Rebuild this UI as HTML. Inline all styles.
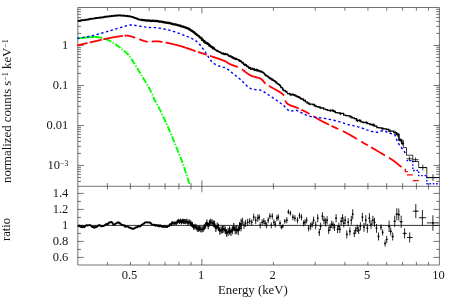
<!DOCTYPE html>
<html><head><meta charset="utf-8"><title>spectrum</title>
<style>
html,body{margin:0;padding:0;background:#fff;}
body{width:454px;height:297px;position:relative;overflow:hidden;font-family:"Liberation Serif",serif;}
.t{position:absolute;font-size:12.5px;line-height:14px;color:#000;white-space:nowrap;}
.sup{font-size:62%;position:relative;top:-0.42em;line-height:0;}
</style></head><body>
<svg width="454" height="297" viewBox="0 0 454 297" style="position:absolute;left:0;top:0">
<path d="M77.8 7.5 H439.4 V265.0 H77.8 Z M77.8 186.3 H439.4 M107.4 7.5 v3.2 M107.4 183.1 v6.4 M107.4 265.0 v-3.2 M130.4 7.5 v3.2 M130.4 183.1 v6.4 M130.4 265.0 v-3.2 M149.2 7.5 v3.2 M149.2 183.1 v6.4 M149.2 265.0 v-3.2 M165.1 7.5 v3.2 M165.1 183.1 v6.4 M165.1 265.0 v-3.2 M178.9 7.5 v3.2 M178.9 183.1 v6.4 M178.9 265.0 v-3.2 M191.0 7.5 v3.2 M191.0 183.1 v6.4 M191.0 265.0 v-3.2 M201.9 7.5 v6.0 M201.9 180.3 v12.0 M201.9 265.0 v-6.0 M273.4 7.5 v3.2 M273.4 183.1 v6.4 M273.4 265.0 v-3.2 M315.2 7.5 v3.2 M315.2 183.1 v6.4 M315.2 265.0 v-3.2 M344.9 7.5 v3.2 M344.9 183.1 v6.4 M344.9 265.0 v-3.2 M367.9 7.5 v3.2 M367.9 183.1 v6.4 M367.9 265.0 v-3.2 M386.7 7.5 v3.2 M386.7 183.1 v6.4 M386.7 265.0 v-3.2 M402.6 7.5 v3.2 M402.6 183.1 v6.4 M402.6 265.0 v-3.2 M416.4 7.5 v3.2 M416.4 183.1 v6.4 M416.4 265.0 v-3.2 M428.5 7.5 v3.2 M428.5 183.1 v6.4 M428.5 265.0 v-3.2 M77.8 181.4 h3.2 M439.4 181.4 h-3.2 M77.8 177.5 h3.2 M439.4 177.5 h-3.2 M77.8 174.3 h3.2 M439.4 174.3 h-3.2 M77.8 171.6 h3.2 M439.4 171.6 h-3.2 M77.8 169.3 h3.2 M439.4 169.3 h-3.2 M77.8 167.3 h3.2 M439.4 167.3 h-3.2 M77.8 165.4 h6.0 M439.4 165.4 h-6.0 M77.8 153.4 h3.2 M439.4 153.4 h-3.2 M77.8 146.4 h3.2 M439.4 146.4 h-3.2 M77.8 141.4 h3.2 M439.4 141.4 h-3.2 M77.8 137.5 h3.2 M439.4 137.5 h-3.2 M77.8 134.3 h3.2 M439.4 134.3 h-3.2 M77.8 131.6 h3.2 M439.4 131.6 h-3.2 M77.8 129.3 h3.2 M439.4 129.3 h-3.2 M77.8 127.3 h3.2 M439.4 127.3 h-3.2 M77.8 125.5 h6.0 M439.4 125.5 h-6.0 M77.8 113.4 h3.2 M439.4 113.4 h-3.2 M77.8 106.4 h3.2 M439.4 106.4 h-3.2 M77.8 101.4 h3.2 M439.4 101.4 h-3.2 M77.8 97.5 h3.2 M439.4 97.5 h-3.2 M77.8 94.3 h3.2 M439.4 94.3 h-3.2 M77.8 91.6 h3.2 M439.4 91.6 h-3.2 M77.8 89.3 h3.2 M439.4 89.3 h-3.2 M77.8 87.3 h3.2 M439.4 87.3 h-3.2 M77.8 85.5 h6.0 M439.4 85.5 h-6.0 M77.8 73.4 h3.2 M439.4 73.4 h-3.2 M77.8 66.4 h3.2 M439.4 66.4 h-3.2 M77.8 61.4 h3.2 M439.4 61.4 h-3.2 M77.8 57.5 h3.2 M439.4 57.5 h-3.2 M77.8 54.3 h3.2 M439.4 54.3 h-3.2 M77.8 51.6 h3.2 M439.4 51.6 h-3.2 M77.8 49.3 h3.2 M439.4 49.3 h-3.2 M77.8 47.3 h3.2 M439.4 47.3 h-3.2 M77.8 45.5 h6.0 M439.4 45.5 h-6.0 M77.8 33.4 h3.2 M439.4 33.4 h-3.2 M77.8 26.4 h3.2 M439.4 26.4 h-3.2 M77.8 21.4 h3.2 M439.4 21.4 h-3.2 M77.8 17.5 h3.2 M439.4 17.5 h-3.2 M77.8 14.3 h3.2 M439.4 14.3 h-3.2 M77.8 11.6 h3.2 M439.4 11.6 h-3.2 M77.8 9.3 h3.2 M439.4 9.3 h-3.2 M77.8 257.4 h6.0 M439.4 257.4 h-6.0 M77.8 249.4 h3.2 M439.4 249.4 h-3.2 M77.8 241.4 h6.0 M439.4 241.4 h-6.0 M77.8 233.4 h3.2 M439.4 233.4 h-3.2 M77.8 225.4 h6.0 M439.4 225.4 h-6.0 M77.8 217.4 h3.2 M439.4 217.4 h-3.2 M77.8 209.4 h6.0 M439.4 209.4 h-6.0 M77.8 201.4 h3.2 M439.4 201.4 h-3.2 M77.8 193.4 h6.0 M439.4 193.4 h-6.0" fill="none" stroke="#383838" stroke-width="0.7"/>
<path d="M77.8 225.4 H439.4" stroke="#000" stroke-width="0.8" fill="none"/>
<g fill="none" stroke-linecap="butt" stroke-linejoin="round">
<path d="M77.3 38.4 L77.5 38.4 L77.8 38.4 L78.0 38.3 L78.3 38.3 L78.6 38.3 L79.0 38.2 L79.3 38.2 L79.7 38.1 L80.1 38.1 L80.5 38.1 L80.9 38.0 L81.3 38.0 L81.8 37.9 L82.2 37.9 L82.7 37.8 L83.1 37.8 L83.6 37.7 L84.1 37.7 L84.6 37.6 L85.0 37.6 L85.5 37.5 L86.0 37.5 L86.5 37.4 L87.0 37.4 L87.4 37.3 L87.9 37.3 L88.3 37.2 L88.8 37.2 L89.2 37.2 L89.7 37.1 L90.1 37.1 L90.5 37.1 L90.9 37.1 L91.2 37.0 L91.6 37.0 L91.9 37.0 L92.5 37.0 L93.0 37.0 L93.5 36.9 L94.0 36.9 L94.4 36.9 L94.9 36.9 L95.3 36.9 L95.7 36.9 L96.1 37.0 L96.5 37.0 L96.9 37.0 L97.2 37.0 L97.6 37.1 L98.0 37.1 L98.3 37.2 L98.7 37.2 L99.1 37.3 L99.5 37.3 L99.9 37.4 L100.3 37.5 L100.7 37.6 L101.1 37.7 L101.5 37.8 L101.9 37.9 L102.3 38.0" stroke="#00ff00" stroke-width="1.9"/>
<path d="M105.5 39.0 L105.9 39.2 L106.3 39.3 L106.7 39.5 L107.1 39.7 L107.5 39.9 L107.9 40.0 L108.3 40.2 L108.7 40.4 L109.1 40.6 L109.5 40.8 L110.0 41.0 L110.4 41.2 L110.8 41.5 L111.2 41.7 L111.6 41.9 L112.1 42.2 L112.5 42.4 L112.9 42.7 L113.3 42.9 L113.7 43.2 L114.2 43.4 L114.6 43.7 L115.0 44.0 L115.4 44.3 L115.8 44.5 L116.3 44.8 L116.7 45.1 L117.1 45.4 L117.5 45.7 L117.9 46.0 L118.3 46.3 L118.8 46.6 L119.2 46.9 L119.6 47.3 L120.1 47.6 L120.5 47.9 L120.9 48.3 L121.4 48.6 L121.8 49.0 L122.2 49.3 L122.6 49.7 L123.1 50.0 L123.5 50.3 L123.8 50.7 L124.2 51.0 L124.6 51.3 L124.9 51.6 L125.3 51.9 L125.6 52.2 L126.1 52.7 L126.6 53.1 L127.0 53.4 L127.3 53.7 L127.6 54.0 L128.0 54.3 L128.3 54.6 L128.7 55.1 L129.1 55.6 L129.6 56.3 L130.2 57.2 L130.5 57.6 L130.8 58.1 L131.2 58.6 L131.5 59.1 L131.9 59.7 L132.2 60.3 L132.6 60.9 L133.0 61.5 L133.4 62.1 L133.8 62.8 L134.3 63.5 L134.7 64.1 L135.1 64.8 L135.6 65.5 L136.0 66.3 L136.4 67.0 L136.9 67.7 L137.3 68.4 L137.8 69.1 L138.2 69.8 L138.6 70.5 L139.1 71.3 L139.5 71.9 L139.9 72.6 L140.3 73.3 L140.7 74.0 L141.1 74.7 L141.6 75.4 L142.0 76.1 L142.4 76.8 L142.9 77.5 L143.3 78.2 L143.7 79.0 L144.2 79.7 L144.6 80.5 L145.1 81.2 L145.5 81.9 L145.9 82.7 L146.4 83.4 L146.8 84.1 L147.2 84.8 L147.6 85.5 L148.0 86.2 L148.4 86.8 L148.8 87.5 L149.1 88.1 L149.5 88.7 L149.8 89.3 L150.1 89.9 L150.4 90.4 L151.0 91.6 L151.6 92.7 L152.0 93.7 L152.4 94.5 L152.7 95.4 L153.0 96.1 L153.3 96.9 L153.6 97.7 L154.0 98.6 L154.4 99.5 L154.7 100.2 L155.1 100.8 L155.4 101.5 L155.8 102.1 L156.2 102.7 L156.5 103.4 L156.9 104.0 L157.3 104.7 L157.7 105.5 L158.2 106.3 L158.6 107.1 L159.1 108.1 L159.6 109.1 L160.2 110.2 L160.5 110.9 L160.9 111.6 L161.2 112.4 L161.6 113.2 L162.0 114.0 L162.4 114.8 L162.8 115.7 L163.2 116.6 L163.6 117.6 L164.1 118.5 L164.5 119.5 L165.0 120.4 L165.4 121.4 L165.8 122.4 L166.3 123.3 L166.7 124.3 L167.1 125.3 L167.6 126.2 L168.0 127.2 L168.4 128.1 L168.8 129.0 L169.2 129.9 L169.6 130.8 L169.9 131.6 L170.3 132.4 L170.8 133.5 L171.3 134.7 L171.7 135.8 L172.2 136.9 L172.6 137.9 L173.1 139.0 L173.5 140.0 L173.9 141.0 L174.3 142.0 L174.7 143.0 L175.1 144.0 L175.5 144.9 L175.9 145.9 L176.2 146.8 L176.6 147.7 L176.9 148.6 L177.3 149.5 L177.8 150.7 L178.2 151.8 L178.6 152.8 L179.0 153.7 L179.4 154.6 L179.8 155.5 L180.1 156.5 L180.5 157.4 L180.9 158.5 L181.4 159.6 L181.8 160.8 L182.3 162.2 L182.7 163.2 L183.1 164.4 L183.5 165.6 L183.9 166.9 L184.4 168.3 L184.9 169.7 L185.3 171.2 L185.8 172.7 L186.3 174.1 L186.8 175.6 L187.2 177.0 L187.7 178.4 L188.1 179.7 L188.5 180.9 L188.9 182.0 L189.2 182.9 L189.5 183.8 L189.7 184.5" stroke="#00ff00" stroke-width="1.9" stroke-dasharray="6.5 1.6 1.3 1.6"/>
<path d="M77.3 45.4 L77.5 45.4 L77.7 45.3 L78.0 45.2 L78.3 45.2 L78.6 45.1 L78.9 45.0 L79.2 45.0 L79.5 44.9 L79.9 44.8 L80.2 44.7 L80.6 44.6 L81.0 44.5 L81.4 44.4 L81.8 44.3 L82.2 44.2 L82.7 44.1 L83.1 44.0 L83.5 43.9 L84.0 43.8 L84.5 43.7 L84.9 43.6 L85.4 43.5 L85.9 43.4 L86.3 43.3 L86.8 43.2 L87.3 43.1 L87.6 43.0 M89.8 42.5 L90.1 42.4 L90.6 42.3 L91.0 42.2 L91.5 42.1 L91.9 42.0 L92.3 41.9 L92.7 41.8 L93.1 41.7 L93.5 41.6 L93.9 41.5 L94.3 41.5 L94.7 41.4 L95.1 41.3 L95.5 41.2 L95.9 41.1 L96.3 41.0 L96.7 40.9 L97.1 40.8 L97.5 40.7 L98.0 40.6 L98.4 40.5 L98.8 40.4 L99.2 40.3 L99.6 40.2 L100.1 40.1 L100.5 40.0 L100.9 39.9 L101.3 39.8 L101.7 39.7 M103.3 39.3 L103.4 39.3 L103.8 39.2 L104.2 39.1 L104.7 39.0 L105.1 38.9 L105.5 38.9 L105.9 38.8 L106.3 38.7 L106.7 38.6 L107.1 38.5 L107.5 38.4 L107.9 38.4 L108.3 38.3 L108.7 38.2 L109.1 38.1 L109.5 38.0 L110.0 38.0 L110.4 37.9 L110.8 37.8 L111.3 37.7 L111.7 37.6 L112.2 37.6 L112.6 37.5 L113.0 37.4 L113.5 37.3 L113.9 37.2 L114.3 37.2 L114.8 37.1 L115.2 37.0 L115.6 36.9 L116.1 36.9 L116.5 36.8 L116.9 36.7 L117.4 36.7 L117.8 36.6 L118.2 36.5 L118.6 36.5 L119.0 36.4 L119.4 36.4 L119.8 36.3 L120.2 36.2 L120.5 36.2 L120.9 36.1 L121.3 36.1 L121.6 36.0 L122.0 36.0 L122.3 36.0 L122.7 35.9 L122.8 35.9 M124.6 35.7 L125.1 35.7 L125.7 35.7 L126.1 35.7 L126.6 35.7 L127.0 35.7 L127.3 35.7 L127.7 35.7 L128.0 35.8 L128.3 35.8 L128.7 35.9 L129.0 35.9 L129.4 36.0 L129.7 36.1 L130.2 36.2 L130.6 36.3 L131.0 36.4 L131.3 36.5 L131.7 36.6 L132.1 36.7 L132.5 36.8 L132.9 37.0 L133.3 37.1 L133.7 37.2 L134.1 37.4 L134.5 37.5 L134.9 37.7 L135.2 37.8 M139.2 39.3 L139.4 39.3 L139.8 39.5 L140.2 39.6 L140.6 39.7 L141.0 39.9 L141.4 40.0 L141.8 40.2 L142.2 40.3 L142.6 40.5 L143.0 40.6 L143.4 40.7 L143.8 40.9 L144.2 41.0 L144.6 41.1 L145.0 41.2 L145.4 41.3 L145.8 41.4 L146.2 41.5 L146.6 41.6 L147.1 41.6 L147.5 41.7 L147.8 41.7 M151.7 41.6 L151.9 41.6 L152.3 41.5 L152.7 41.5 L153.1 41.4 L153.5 41.4 L154.0 41.3 L154.4 41.3 L154.8 41.3 L155.3 41.3 L155.7 41.3 L156.2 41.3 L156.6 41.3 L157.1 41.3 L157.5 41.3 L157.8 41.4 L158.2 41.4 L158.6 41.4 L159.0 41.5 L159.4 41.5 L159.8 41.6 L160.1 41.6 L160.5 41.7 L160.9 41.8 L161.4 41.8 L161.8 41.9 L162.2 41.9 L162.3 42.0 M165.6 42.6 L165.9 42.6 L166.3 42.7 L166.7 42.8 L167.2 42.9 L167.6 43.0 L168.0 43.0 L168.4 43.1 L168.8 43.2 L169.2 43.3 L169.6 43.4 L170.0 43.5 L170.4 43.6 L170.8 43.6 L171.2 43.7 L171.6 43.8 L172.0 43.9 L172.4 44.0 L172.8 44.1 L173.2 44.2 L173.6 44.3 L174.0 44.4 L174.4 44.5 L174.8 44.6 L175.2 44.7 L175.7 44.8 L176.1 44.9 L176.5 45.0 L176.9 45.1 L177.3 45.2 L177.7 45.3 L178.1 45.4 L178.5 45.5 L178.9 45.6 L179.3 45.7 L179.7 45.8 L180.1 46.0 L180.5 46.1 L180.9 46.2 L181.3 46.3 L181.7 46.4 L182.1 46.5 L182.5 46.7 L182.9 46.8 L183.3 46.9 L183.7 47.1 L184.1 47.2 L184.5 47.3 L184.9 47.5 L185.3 47.6 L185.7 47.7 L186.1 47.9 L186.5 48.0 L186.9 48.1 L187.4 48.3 L187.8 48.4 L188.2 48.6 L188.6 48.7 L189.0 48.9 L189.4 49.0 L189.8 49.1 L190.2 49.3 L190.6 49.4 L191.0 49.6 L191.4 49.7 L191.8 49.8 L192.2 50.0 L192.6 50.1 L193.0 50.3 L193.4 50.4 L193.8 50.5 L194.2 50.7 L194.6 50.8 L195.0 50.9 L195.4 51.1 L195.5 51.1 M198.1 52.0 L198.2 52.0 L198.6 52.1 L199.0 52.3 L199.4 52.4 L199.9 52.5 L200.3 52.7 L200.7 52.8 L201.1 52.9 L201.5 53.1 L201.9 53.2 L202.3 53.3 L202.7 53.5 L203.1 53.6 L203.5 53.7 L203.9 53.9 L204.3 54.0 L204.7 54.1 L205.1 54.3 L205.5 54.4 L205.9 54.5 L206.3 54.7 L206.7 54.8 M210.0 55.9 L210.1 55.9 L210.5 56.0 L211.0 56.2 L211.4 56.3 L211.8 56.5 L212.2 56.6 L212.6 56.7 L213.0 56.9 L213.5 57.0 L213.9 57.1 L214.3 57.3 L214.7 57.4 L215.1 57.5 L215.4 57.7 L215.8 57.8 L216.2 57.9 L216.6 58.0 L216.9 58.2 L217.3 58.3 L217.6 58.4 L218.1 58.6 L218.6 58.7 L219.1 58.9 L219.5 59.1 L220.0 59.2 L220.4 59.4 L220.9 59.6 L221.3 59.7 L221.7 59.9 L222.1 60.0 L222.5 60.2 L222.9 60.3 L223.3 60.5 L223.7 60.6 L224.0 60.8 L224.4 60.9 L224.7 61.1 L225.1 61.2 L225.4 61.4 L225.7 61.5 L226.2 61.8 L226.6 62.0 L227.0 62.2 L227.3 62.5 L227.6 62.7 L227.9 62.9 L228.2 63.1 L228.6 63.4 L229.0 63.6 L229.5 63.9 L230.1 64.2 L230.4 64.3 L230.7 64.5 L231.0 64.6 L231.4 64.7 L231.8 64.9 L232.1 65.0 L232.5 65.1 L232.9 65.3 L233.3 65.4 L233.7 65.6 L234.2 65.7 L234.6 65.8 L235.0 66.0 L235.4 66.2 L235.9 66.3 L236.3 66.5 L236.8 66.6 L237.2 66.8 L237.7 67.0 L237.9 67.1 M241.9 69.3 L242.2 69.5 L242.6 69.8 L243.0 70.1 L243.4 70.4 L243.8 70.7 L244.2 71.0 L244.6 71.3 L245.0 71.6 L245.5 72.0 L245.9 72.3 L246.3 72.6 L246.7 72.9 L247.1 73.2 L247.5 73.5 L247.9 73.8 L248.3 74.1 L248.7 74.3 L249.1 74.6 L249.5 74.9 L249.9 75.1 L250.3 75.3 L250.7 75.5 L251.1 75.7 L251.5 75.9 L252.0 76.0 L252.4 76.2 L252.8 76.3 L253.3 76.5 L253.7 76.6 L254.1 76.7 L254.6 76.8 L255.0 76.9 L255.5 77.0 L255.9 77.1 L256.3 77.3 L256.7 77.4 L257.1 77.5 L257.5 77.6 L257.9 77.7 L258.3 77.8 L258.7 77.9 L259.1 78.0 L259.4 78.2 L259.8 78.3 L260.1 78.4 L260.4 78.6 L261.0 78.9 L261.5 79.3 L262.0 79.7 L262.4 80.1 L262.7 80.5 L263.1 80.9 L263.4 81.4 L263.8 81.8 L264.1 82.2 L264.5 82.6 L264.9 83.0 L265.4 83.4 L265.7 83.6 M269.0 85.8 L269.3 86.0 L269.7 86.2 L270.1 86.5 L270.5 86.8 L271.0 87.0 L271.4 87.3 L271.9 87.5 L272.3 87.8 L272.7 88.0 L273.1 88.3 L273.5 88.5 L273.9 88.7 L274.4 89.0 L274.8 89.2 L275.2 89.5 L275.7 89.7 L276.1 90.0 L276.6 90.2 L277.0 90.4 L277.5 90.7 L277.9 90.9 L278.3 91.2 L278.7 91.4 L279.1 91.6 L279.5 91.9 L279.8 92.1 L280.2 92.3 L280.5 92.5 L281.1 92.9 L281.6 93.3 L282.1 93.7 L282.6 94.2 L283.0 94.5 L283.4 94.9 L283.7 95.2 L284.0 95.5" stroke="#ff0000" stroke-width="1.8"/>
<path d="M285.2 100.5 L285.2 100.6 L285.5 101.1 L285.8 101.7 L286.2 102.3 L286.7 103.0 L287.4 103.7 L288.2 104.3 L288.5 104.5 L288.8 104.6 L289.1 104.8 L289.4 104.9 L289.8 105.1 L290.1 105.2 L290.5 105.4 L290.9 105.6 L291.3 105.7 L291.7 105.9 L292.2 106.0 L292.6 106.2 L293.0 106.3 L293.5 106.5 L293.9 106.6 L294.4 106.8 L294.8 106.9 L295.3 107.1 L295.7 107.3 L296.2 107.4 L296.6 107.6 L297.0 107.8 L297.5 107.9 L297.9 108.1 L298.3 108.3 L298.7 108.5 L298.8 108.5 M301.4 109.7 L301.5 109.8 L301.9 109.9 L302.2 110.1 L302.6 110.3 L303.0 110.5 L303.4 110.7 L303.8 110.9 L304.2 111.1 L304.6 111.3 L305.0 111.5 L305.4 111.7 L305.8 111.9 L306.3 112.1 L306.7 112.4 L307.1 112.6 L307.5 112.8 L308.0 113.1 L308.4 113.3 L308.8 113.5 L309.1 113.7 L309.4 113.9 M313.3 116.2 L313.5 116.3 L313.9 116.5 L314.3 116.8 L314.7 117.0 L315.2 117.3 L315.6 117.5 L316.0 117.8 L316.4 118.0 L316.8 118.3 L317.2 118.5 L317.6 118.8 L318.0 119.0 L318.5 119.3 L318.9 119.5 L319.3 119.7 L319.7 120.0 L320.1 120.2 L320.5 120.4 L320.9 120.6 L321.3 120.8 L321.7 121.0 L322.1 121.2 L322.5 121.5 L322.9 121.7 L323.3 121.9 L323.7 122.1 L324.1 122.3 L324.4 122.4 L324.8 122.6 L325.2 122.8 L325.6 123.0 L326.0 123.2 L326.4 123.4 L326.8 123.6 L327.2 123.8 L327.6 124.0 L328.0 124.2 L328.4 124.4 L328.8 124.6 L329.0 124.7 M331.6 125.9 L331.7 126.0 L332.2 126.2 L332.6 126.4 L333.0 126.6 L333.3 126.8 L333.7 126.9 L334.1 127.1 L334.5 127.3 L334.9 127.5 L335.3 127.7 L335.7 127.9 L336.1 128.1 L336.5 128.2 L336.9 128.4 L337.3 128.6 L337.8 128.8 L338.2 129.0 L338.2 129.0 M342.8 131.2 L343.2 131.3 L343.6 131.5 L344.0 131.7 L344.4 131.9 L344.8 132.1 L345.2 132.3 L345.6 132.5 L346.0 132.7 L346.4 132.9 L346.7 133.1 L347.1 133.3 L347.5 133.5 L348.0 133.8 L348.4 134.0 L348.8 134.2 L349.3 134.5 L349.7 134.7 L350.1 134.9 L350.5 135.2 L350.9 135.4 L351.3 135.7 L351.7 135.9 L352.1 136.1 L352.5 136.4 L352.9 136.6 L353.3 136.8 L353.7 137.1 L354.1 137.3 L354.5 137.6 L354.9 137.8 L355.3 138.0 L355.6 138.3 L356.0 138.5 L356.4 138.7 L356.8 139.0 M361.2 141.6 L361.2 141.6 L361.6 141.8 L362.0 142.0 L362.4 142.3 L362.8 142.5 L363.2 142.7 L363.6 143.0 L364.0 143.2 L364.4 143.4 L364.8 143.7 L365.2 143.9 L365.7 144.1 L366.1 144.4 L366.5 144.6 L366.9 144.8 L367.3 145.1 L367.7 145.3 L367.8 145.4 M371.1 147.3 L371.3 147.4 L371.7 147.6 L372.1 147.9 L372.5 148.1 L372.9 148.4 L373.4 148.6 L373.8 148.8 L374.2 149.1 L374.6 149.3 L375.0 149.6 L375.4 149.8 L375.9 150.1 L376.3 150.3 L376.7 150.6 L377.1 150.8 L377.5 151.0 L378.0 151.3 L378.4 151.5 L378.8 151.8 L379.2 152.0 L379.6 152.2 L380.0 152.5 L380.4 152.7 L380.8 153.0 L381.2 153.2 L381.6 153.4 L381.9 153.6 L382.3 153.9 L382.7 154.1 L383.0 154.3 L383.4 154.5 L383.9 154.8 L384.3 155.1 L384.8 155.3 L385.0 155.4 M389.0 157.8 L389.4 158.0 L389.8 158.2 L390.1 158.5 L390.5 158.7 L390.9 159.0 L391.3 159.2 L391.7 159.5 L392.1 159.7 L392.5 160.0 L392.9 160.3 L393.4 160.6 L393.8 161.0 L394.3 161.3 L394.8 161.6 L395.2 162.0 L395.7 162.4 L396.1 162.7 L396.6 163.1 L397.0 163.4 L397.5 163.8 L397.9 164.1 L398.3 164.5 L398.7 164.8 L399.1 165.1 L399.5 165.5 L399.9 165.8 L400.2 166.1 L400.6 166.3 L400.9 166.6 L401.5 167.1 L401.5 167.1" stroke="#ff0000" stroke-width="1.8"/>
<path d="M405.3 168.8 V171.6 H407.8 M406.9 174.9 H412.8 M412.8 180.6 H418.7" stroke="#ff0000" stroke-width="1.4"/>
<path d="M77.3 38.4 L77.9 38.3 L78.6 38.2 L79.4 38.1 L80.3 37.9 L81.3 37.7 L82.4 37.6 L83.5 37.4 L84.7 37.2 L85.9 37.0 L87.1 36.8 L88.4 36.5 L89.6 36.3 L90.8 36.1 L91.9 35.8 L92.9 35.6 L93.9 35.3 L94.9 35.1 L95.9 34.8 L97.0 34.5 L98.0 34.2 L99.1 33.9 L100.2 33.6 L101.2 33.3 L102.3 33.0 L103.4 32.7 L104.4 32.4 L105.5 32.0 L106.6 31.7 L107.6 31.4 L108.7 31.1 L109.8 30.8 L110.9 30.5 L112.0 30.1 L113.2 29.8 L114.3 29.4 L115.5 29.0 L116.7 28.7 L117.8 28.3 L119.0 28.0 L120.1 27.6 L121.1 27.3 L122.1 27.0 L123.1 26.7 L124.0 26.4 L124.8 26.2 L125.6 26.0 L127.4 25.5 L128.5 25.2 L129.3 25.0 L130.2 25.0 L131.5 25.0 L132.4 25.1 L133.4 25.2 L134.5 25.3 L135.6 25.5 L136.8 25.7 L138.0 25.9 L139.2 26.1 L140.3 26.3 L141.4 26.5 L142.4 26.6 L143.6 26.8 L144.7 26.9 L145.8 27.1 L146.9 27.2 L147.9 27.3 L148.9 27.4 L149.9 27.5 L150.8 27.6 L151.9 27.7 L152.8 27.6 L153.7 27.6 L154.6 27.6 L155.7 27.6 L157.1 27.8 L157.9 27.9 L158.8 28.1 L159.7 28.2 L160.7 28.4 L161.7 28.6 L162.8 28.8 L163.9 29.0 L165.0 29.2 L166.0 29.4 L167.1 29.7 L168.2 29.9 L169.2 30.2 L170.2 30.5 L171.2 30.8 L172.2 31.1 L173.2 31.4 L174.2 31.7 L175.2 32.0 L176.3 32.4 L177.3 32.7 L178.3 33.1 L179.3 33.5 L180.3 33.8 L181.3 34.2 L182.3 34.6 L183.4 35.0 L184.5 35.4 L185.6 35.8 L186.6 36.3 L187.7 36.7 L188.8 37.1 L189.8 37.6 L190.8 38.0 L191.7 38.4 L192.6 38.9 L193.4 39.3 L194.8 40.1 L195.9 40.9 L196.8 41.6 L197.7 42.4 L198.6 43.3 L199.5 44.3 L200.5 45.5 L201.5 46.7 L202.5 48.1 L203.5 49.5 L204.5 51.0 L205.5 52.4 L206.5 53.9 L207.5 55.5 L208.6 57.2 L209.6 58.8 L210.6 60.3 L211.6 61.5 L212.6 62.5 L213.5 63.3 L214.5 63.9 L215.4 64.5 L216.5 65.0 L217.6 65.5 L218.5 65.9 L219.6 66.2 L220.6 66.5 L221.8 66.8 L222.8 67.1 L223.9 67.4 L224.9 67.7 L225.7 68.0 L226.9 68.7 L227.8 69.3 L228.7 70.1 L230.1 71.3 L230.9 71.9 L231.8 72.6 L232.7 73.3 L233.7 74.1 L234.8 74.9 L235.9 75.8 L237.0 76.7 L238.1 77.6 L239.2 78.4 L240.2 79.3 L241.2 80.2 L242.2 81.2 L243.2 82.2 L244.2 83.2 L245.2 84.2 L246.3 85.2 L247.3 86.2 L248.3 87.0 L249.3 87.8 L250.3 88.4 L251.3 88.9 L252.4 89.2 L253.5 89.4 L254.5 89.5 L255.6 89.6 L256.7 89.7 L257.7 89.7 L258.6 89.8 L259.6 89.9 L260.4 90.1 L261.6 90.6 L262.7 91.1 L263.7 91.7 L264.6 92.3 L265.5 92.9 L266.4 93.5 L267.5 94.2 L268.5 94.8 L269.5 95.5 L270.7 96.2 L272.1 97.2 L273.0 97.8 L273.9 98.4 L275.0 99.1 L276.1 99.9 L277.2 100.7 L278.3 101.4 L279.4 102.2 L280.4 103.0 L281.4 103.7 L282.2 104.3 L283.6 105.5 L284.7 106.6 L285.6 107.6 L286.4 108.5 L287.2 109.3 L288.3 110.3 L289.1 111.0 L290.3 111.3 L291.1 111.2 L292.0 111.0 L293.0 110.7 L294.0 110.4 L295.1 110.2 L296.3 110.3 L297.2 110.6 L298.2 111.0 L299.2 111.5 L300.2 112.1 L301.3 112.7 L302.3 113.3 L303.4 113.8 L304.4 114.3 L305.4 114.7 L306.3 115.1 L307.3 115.5 L308.2 115.8 L309.2 116.1 L310.2 116.4 L311.3 116.7 L312.5 117.0 L313.4 117.2 L314.3 117.3 L315.2 117.4 L316.2 117.5 L317.3 117.6 L318.3 117.7 L319.4 117.8 L320.4 117.9 L321.5 118.0 L322.5 118.1 L323.6 118.2 L324.6 118.4 L325.6 118.6 L326.6 118.8 L327.7 119.0 L328.7 119.2 L329.7 119.4 L330.8 119.6 L331.8 119.8 L332.8 120.0 L333.8 120.3 L334.8 120.5 L335.8 120.8 L336.7 121.0 L337.8 121.3 L338.9 121.6 L339.9 121.9 L340.9 122.2 L341.9 122.6 L342.9 122.9 L343.9 123.2 L344.9 123.6 L346.0 123.9 L347.1 124.2 L348.0 124.5 L349.0 124.7 L350.0 124.9 L351.0 125.2 L352.0 125.4 L353.0 125.6 L354.1 125.9 L355.1 126.1 L356.1 126.4 L357.2 126.6 L358.2 126.9 L359.2 127.2 L360.2 127.5 L361.3 127.9 L362.4 128.2 L363.5 128.6 L364.5 129.0 L365.6 129.4 L366.7 129.8 L367.7 130.1 L368.7 130.5 L369.6 130.8 L370.5 131.1 L371.3 131.3 L372.7 131.7 L373.8 132.0 L374.7 132.2 L375.6 132.3 L376.5 132.3 L377.4 132.3 L378.4 132.1 L379.4 131.8 L380.4 131.4 L381.4 131.0 L382.4 130.8 L383.4 130.7 L384.4 130.9 L385.5 131.3 L386.5 131.8 L387.5 132.4 L388.5 132.9 L389.5 133.3 L390.6 133.5 L391.7 133.6 L392.8 133.7 L393.7 133.9 L394.5 134.3 L395.6 136.5 L396.5 139.3 L397.4 141.3 L398.5 143.4 L399.6 145.4 L400.6 146.7 L401.6 148.0 L402.7 149.2 L403.6 150.4 L405.3 153.3 L406.4 155.5" stroke="#0000ff" stroke-width="1.4" stroke-dasharray="2.4 2.5"/>
<path d="M406.5 160.6 L412.8 160.6 L412.8 170.5 L418.7 170.5 L418.7 175.6 L426.8 175.6 L426.8 183.8 L439.4 183.8" stroke="#0000ff" stroke-width="1.4" stroke-dasharray="1.6 1.7"/>
</g>
<g fill="none" stroke="#000" stroke-linejoin="round">
<path d="M77.9 21.0 L78.2 20.9 L78.6 21.0 L79.0 20.7 L79.5 20.9 L80.0 20.7 L80.5 20.5 L81.0 20.6 L81.5 20.3 L82.1 20.4 L82.6 20.1 L83.2 20.1 L83.8 20.1 L84.4 20.2 L85.0 19.8 L85.6 19.7 L86.2 19.8 L86.8 19.8 L87.4 19.6 L87.9 19.4 L88.5 19.5 L89.1 19.1 L89.6 19.3 L90.1 19.0 L90.6 18.9 L91.1 18.8 L91.5 18.8 L91.9 18.9 L92.6 18.6 L93.2 18.6 L93.8 18.6 L94.4 18.4 L94.9 18.4 L95.4 18.1 L95.9 18.0 L96.3 18.0 L96.8 18.1 L97.2 18.0 L97.6 17.9 L98.1 17.9 L98.5 17.8 L99.0 17.7 L99.5 17.8 L100.0 17.7 L100.5 17.4 L101.0 17.5 L101.6 17.4 L102.1 17.5 L102.6 17.3 L103.2 17.1 L103.8 17.3 L104.3 16.8 L104.9 16.9 L105.4 16.9 L105.9 16.6 L106.4 16.7 L106.9 16.4 L107.4 16.6 L107.9 16.6 L108.3 16.5 L108.7 16.6 L109.4 16.2 L110.1 16.3 L110.6 16.2 L111.1 16.1 L111.5 16.0 L112.0 16.1 L112.5 16.1 L113.0 15.9 L113.5 15.9 L113.9 15.6 L114.4 15.8 L114.8 15.8 L115.3 15.8 L115.8 15.7 L116.3 15.5 L116.8 15.5 L117.4 15.6 L118.0 15.3 L118.5 15.5 L118.9 15.4 L119.5 15.4 L120.0 15.3 L120.5 15.6 L121.1 15.4 L121.6 15.5 L122.2 15.6 L122.8 15.8 L123.3 15.5 L123.8 15.7 L124.3 15.7 L124.8 15.9 L125.3 15.9 L125.9 16.0 L126.5 15.8 L127.0 15.9 L127.5 16.0 L128.0 16.3 L128.5 16.4 L129.0 16.2 L129.5 16.3 L130.0 16.4 L130.5 16.5 L131.0 16.7 L131.5 16.9 L132.0 16.9 L132.6 16.9 L133.1 17.3 L133.6 17.4 L134.1 17.6 L134.6 18.0 L135.1 18.0 L135.6 18.1 L136.1 18.3 L136.7 18.6 L137.2 18.5 L137.8 19.1 L138.3 19.2 L138.8 19.4 L139.4 19.6 L139.9 19.6 L140.5 19.8 L141.0 19.7 L141.5 20.0 L142.0 19.9" stroke-width="1.9"/>
<path d="M141.5 19.8 L142.0 20.0 L142.5 20.0 L143.0 20.1 L143.5 20.1 L144.1 20.1 L144.6 20.2 L145.1 20.3 L145.6 20.4 L146.1 20.3 L146.6 20.7 L147.2 20.6 L147.7 20.5 L148.2 20.5 L148.8 20.6 L149.3 20.6 L149.8 20.6 L150.3 20.9 L150.9 21.0 L151.4 20.8 L151.9 20.8 L152.5 20.7 L153.0 20.7 L153.5 20.8 L154.1 20.8 L154.6 21.1 L155.1 20.8 L155.6 20.8 L156.2 21.2 L156.7 21.1 L157.2 21.0 L157.7 21.2 L158.2 21.1 L158.7 21.4 L159.2 21.6 L159.7 21.7 L160.3 21.7 L160.8 21.6 L161.4 21.7 L162.0 21.8 L162.4 22.1 L162.9 22.0 L163.3 22.2 L163.8 22.1 L164.2 22.1 L164.7 22.4 L165.2 22.6 L165.7 22.6 L166.2 22.6 L166.7 22.7 L167.3 22.8 L167.9 22.7 L168.5 23.0 L169.2 23.0 L169.6 23.0 L170.0 23.1 L170.5 23.3 L171.0 23.4 L171.5 23.7 L172.0 23.9 L172.5 23.8 L173.0 24.1 L173.6 24.3 L174.1 24.4 L174.6 24.3 L175.2 24.4 L175.7 24.5 L176.3 24.6 L176.8 24.8 L177.4 25.1 L177.9 25.3 L178.4 25.4 L179.0 25.4 L179.5 25.6 L179.9 25.8 L180.4 25.7 L180.9 26.0 L181.3 26.3 L181.9 26.4 L182.5 26.6 L183.1 26.6 L183.6 26.7 L184.1 27.1 L184.6 27.1 L185.1 27.4 L185.6 27.7 L186.1 27.6 L186.5 27.8 L187.0 28.2 L187.5 28.3 L187.9 28.3 L188.4 28.5 L188.9 28.8 L189.4 29.4 L189.9 29.6 L190.4 29.7 L190.9 30.3 L191.4 30.7 L191.9 30.9 L192.4 31.1 L192.9 31.6 L193.5 31.8 L194.0 32.1 L194.5 32.9 L195.0 33.2 L195.5 33.6 L196.0 34.1 L196.5 34.4 L197.0 34.9 L197.5 35.3 L198.0 35.5 L198.5 35.9 L199.0 36.4 L199.5 36.8 L200.0 37.5 L200.5 37.5 L201.0 38.2 L201.5 38.2 L202.0 39.8 L202.5 39.5 L203.0 40.1 L203.5 40.7 L204.0 41.6 L204.5 41.3 L205.0 42.5 L205.5 42.3 L206.0 42.8 L206.5 43.2 L207.0 42.9 L207.6 43.8 L208.1 43.9 L208.6 44.0 L209.1 45.5 L209.6 45.0 L210.2 45.8 L210.7 46.6 L211.2 46.7 L211.7 46.7 L212.2 47.4 L212.7 47.7 L213.1 48.4 L213.6 47.7 L214.2 48.8 L214.7 48.7" stroke-width="2.3"/>
<path d="M214.2 48.4 L214.7 49.4 L215.2 49.4 L215.7 49.8 L216.2 50.4 L216.7 50.9 L217.2 50.5 L217.7 51.1 L218.2 51.2 L218.7 51.5 L219.3 52.1 L220.0 52.0 L220.4 52.3 L220.9 52.5 L221.3 53.3 L221.8 53.1 L222.3 53.6 L222.8 53.9 L223.3 53.1 L223.8 53.7 L224.3 54.4 L224.8 54.5 L225.3 53.7 L225.9 53.9 L226.4 54.5 L227.0 54.2 L227.5 54.7 L228.0 54.6 L228.5 55.7 L229.1 56.1 L229.6 56.4 L230.1 55.6 L230.6 56.6 L231.1 56.8 L231.6 56.3 L232.1 57.6 L232.6 57.9 L233.1 57.1 L233.6 58.4 L234.1 57.8 L234.6 58.2 L235.1 59.1 L235.7 59.2 L236.2 58.5 L236.7 59.1 L237.2 59.5 L237.7 59.5 L238.2 59.6 L238.7 60.1 L239.2 60.9 L239.7 60.2 L240.2 61.3 L240.7 61.4 L241.2 61.2 L241.7 61.9 L242.2 62.7 L242.7 62.9 L243.2 62.7 L243.7 64.3 L244.2 64.5 L244.7 65.1 L245.2 64.3 L245.8 64.9 L246.3 64.9 L246.8 66.4 L247.3 66.0 L247.8 66.2 L248.3 66.9 L248.8 67.9 L249.3 68.1 L249.8 67.6 L250.3 67.7 L250.8 69.0 L251.3 68.8 L251.8 69.1 L252.4 68.4 L252.9 68.6 L253.4 69.6 L253.9 69.4 L254.4 69.0 L255.0 70.3 L255.5 70.0 L256.0 70.3 L256.5 69.5 L257.0 70.7 L257.5 69.7 L258.0 70.9 L258.5 70.5 L259.0 70.5 L259.5 71.0 L259.9 71.7 L260.4 71.0 L261.0 71.1 L261.5 72.0 L262.0 71.9 L262.6 72.1 L263.1 72.5 L263.6 72.8 L264.1 73.4 L264.5 73.9 L265.0 74.3 L265.5 75.4 L266.0 75.1 L266.5 75.8 L266.9 75.8 L267.4 76.4 L267.9 76.3 L268.4 77.0 L268.9 77.0 L269.4 78.3 L269.9 78.3 L270.4 78.1 L270.9 78.7 L271.4 79.6 L271.9 78.7 L272.4 80.0 L272.9 79.7 L273.4 80.1 L273.9 80.9 L274.4 80.6 L275.0 81.1 L275.5 81.8 L276.1 82.7 L276.6 82.2 L277.0 83.3 L277.5 83.6 L278.0 83.9 L278.5 84.1 L279.0 84.6 L279.5 84.7 L280.0 85.4 L280.5 85.9 L281.0 87.4 L281.5 87.3 L282.0 87.7 L282.6 88.2 L283.1 89.8 L283.6 90.3 L284.1 90.5 L284.7 90.5 L285.2 90.8 L285.7 91.3 L286.2 91.9 L286.7 91.7 L287.2 92.5 L287.7 92.5" stroke-width="1.7"/>
<path d="M287.0 93.6 L288.6 93.6 L288.6 93.7 L290.2 93.7 L290.2 94.8 L291.8 94.8 L291.8 94.4 L293.5 94.4 L293.5 95.0 L295.1 95.0 L295.1 95.8 L296.8 95.8 L296.8 96.7 L298.5 96.7 L298.5 97.4 L300.2 97.4 L300.2 98.6 L301.9 98.6 L301.9 99.2 L303.6 99.2 L303.6 100.5 L305.4 100.5 L305.4 101.9 L307.1 101.9 L307.1 103.0 L308.9 103.0 L308.9 104.2 L310.7 104.2 L310.7 104.1 L312.5 104.1 L312.5 104.5 L314.3 104.5 L314.3 105.8 L316.2 105.8 L316.2 106.7 L318.0 106.7 L318.0 107.0 L319.9 107.0 L319.9 107.8 L321.8 107.8 L321.8 108.0 L323.7 108.0 L323.7 109.1 L325.6 109.1 L325.6 109.6 L327.5 109.6 L327.5 110.3 L329.5 110.3 L329.5 110.6 L331.4 110.6 L331.4 110.3 L333.4 110.3 L333.4 111.4 L335.4 111.4 L335.4 112.6 L337.4 112.6 L337.4 112.9 L339.5 112.9 L339.5 113.6 L341.5 113.6 L341.5 113.4 L343.6 113.4 L343.6 115.1 L345.7 115.1 L345.7 115.6 L347.8 115.6 L347.8 115.8 L349.9 115.8 L349.9 116.9 L352.0 116.9 L352.0 117.8 L354.2 117.8 L354.2 118.6 L356.4 118.6 L356.4 120.5 L358.6 120.5 L358.6 120.5 L360.8 120.5 L360.8 121.8 L363.0 121.8 L363.0 122.5 L365.3 122.5 L365.3 122.6 L367.6 122.6 L367.6 123.6 L369.9 123.6 L369.9 124.5 L372.2 124.5 L372.2 125.0 L374.5 125.0 L374.5 126.2 L376.9 126.2 L376.9 127.6 L379.2 127.6 L379.2 127.8 L381.6 127.8 L381.6 128.7 L384.0 128.7 L384.0 128.9 L386.5 128.9 L386.5 129.5 L388.9 129.5 L388.9 131.1 L391.4 131.1 L391.4 131.1 L393.9 131.1 L393.9 132.7 L396.4 132.7 L396.4 134.7 L399.0 134.7 L399.0 140.0 L401.6 140.0 L401.6 143.5 L404.1 143.5" stroke-width="1.3" stroke-linejoin="miter"/>
<path d="M396.5 133.3 L398.8 133.3 L398.8 140.3 L403.3 140.3 L403.3 147.6 L406.5 147.6 L406.5 155.2 L412.8 155.2 L412.8 161.5 L418.7 161.5 L418.7 167.6 L426.8 167.6 L426.8 177.6 L439.4 177.6" stroke-width="0.8"/>
<path d="M289.4 92.7 v2.0 M291.0 93.8 v2.0 M292.7 93.4 v2.1 M294.3 93.9 v2.1 M296.0 94.8 v2.1 M297.7 95.6 v2.2 M299.3 96.3 v2.2 M301.0 97.5 v2.2 M302.8 98.0 v2.2 M309.8 103.0 v2.3 M315.2 104.6 v2.4 M320.8 106.6 v2.5 M330.4 109.3 v2.7 M332.4 108.9 v2.7 M334.4 110.0 v2.7 M340.5 112.2 v2.8 M351.0 115.4 v3.0 M357.5 119.0 v3.1 M359.7 119.0 v3.1 M366.4 121.0 v3.2 M373.3 123.3 v3.3 M382.8 127.0 v3.5 M390.2 129.3 v3.6 M395.2 130.8 v3.7 M397.7 132.9 v3.7 M400.3 138.2 v3.7 M402.8 141.6 v3.8 M409.4 156.5 v4.6 M406.4 158.8 h6.0 M415.6 157.4 v4.6 M412.6 159.7 h6.0 M422.8 164.7 v5.6 M418.8 167.5 h8.0 M433.0 174.3 v6.6 M426.7 177.6 h12.6" stroke-width="0.8"/>
</g>
<g fill="none" stroke="#000" stroke-linejoin="round">
<path d="M77.9 225.3 L78.7 226.1 L79.5 225.5 L80.3 226.7 L81.1 226.6 L81.9 227.2 L82.7 227.1 L83.5 226.5 L84.3 227.2 L85.1 226.4 L85.9 225.6 L86.7 225.2 L87.5 225.5 L88.3 225.3 L89.1 225.1 L89.9 225.0 L90.7 225.6 L91.5 226.0 L92.3 227.1 L93.1 226.5 L93.9 227.6 L94.7 227.7 L95.5 226.5 L96.3 227.1 L97.1 226.4 L97.9 226.2 L98.7 225.2 L99.5 225.1 L100.3 225.3 L101.1 226.4 L101.9 226.2 L102.7 226.1 L103.5 226.1 L104.3 225.6 L105.1 224.8 L105.9 224.3 L106.7 224.7 L107.5 223.5 L108.3 223.9 L109.1 222.6 L109.9 222.2 L110.7 222.3 L111.5 221.9 L112.3 222.6 L113.1 224.1 L113.9 224.6 L114.7 224.6 L115.5 223.7 L116.3 223.2 L117.1 222.8 L117.9 222.3 L118.7 222.9 L119.5 222.6 L120.3 223.9 L121.1 224.1 L121.9 224.9 L122.7 225.2 L123.5 225.2 L124.3 225.3 L125.1 226.7 L125.9 226.0 L126.7 226.6 L127.5 226.6 L128.3 226.8 L129.1 227.5 L129.9 228.0 L130.7 227.6 L131.5 228.5 L132.3 228.4 L133.1 229.0 L133.9 228.7 L134.7 228.1 L135.5 227.6 L136.3 227.1 L137.1 227.4 L137.9 226.6 L138.7 226.0 L139.5 226.5 L140.3 226.4 L141.1 225.5 L141.9 224.7 L142.7 224.3 L143.5 223.6 L144.3 223.3 L145.1 222.5 L145.9 222.4 L146.7 222.1 L147.5 222.3 L148.3 222.5 L149.1 222.5 L149.9 222.4 L150.7 223.1 L151.5 224.0 L152.3 224.5 L153.1 224.9 L153.9 224.7 L154.7 225.0 L155.5 225.8 L156.3 224.9 L157.1 225.5 L157.9 225.8 L158.7 226.2 L159.5 225.5 L160.3 225.7 L161.1 225.9 L161.9 226.3" stroke-width="1.9"/>
<path d="M158.0 224.1 v2.0 M158.9 225.0 v2.0 M159.8 225.2 v2.0 M160.7 224.7 v2.0 M161.6 225.4 v2.0 M162.6 225.6 v2.0 M163.5 225.7 v2.0 M164.4 225.4 v2.0 M165.4 225.6 v2.0 M166.3 225.9 v2.0 M167.3 225.7 v2.0 M168.3 224.9 v2.1 M169.2 224.6 v2.2 M170.2 223.0 v2.4 M171.2 223.5 v2.6 M172.2 221.1 v2.8 M173.2 221.7 v3.0 M174.2 221.6 v3.2 M175.2 221.4 v3.4 M176.3 221.3 v3.7 M177.3 219.8 v3.9 M178.3 218.8 v4.1 M179.4 219.7 v4.3 M180.4 218.7 v4.5 M181.5 219.6 v4.7 M182.6 218.6 v4.8 M183.6 219.0 v4.9 M184.7 219.0 v5.0 M185.8 219.1 v5.1 M186.9 218.6 v5.1 M188.0 220.4 v5.2 M189.1 219.2 v5.3 M190.3 220.2 v5.4 M191.4 221.5 v5.4 M192.5 222.1 v5.5 M193.7 224.3 v5.6 M194.9 223.7 v5.7 M196.0 224.0 v5.7 M197.2 225.9 v5.8 M198.4 225.9 v5.9 M199.6 225.3 v6.0 M200.8 226.2 v6.1 M202.0 226.4 v6.1 M203.2 225.7 v6.2 M204.4 223.8 v6.3 M205.7 222.4 v6.4 M206.9 219.4 v6.5 M208.2 222.7 v6.5 M209.4 219.9 v6.6 M210.7 218.7 v6.7 M212.0 219.2 v6.8 M213.3 220.3 v6.9 M214.6 220.7 v7.0 M215.9 224.9 v7.1 M217.2 222.5 v7.1 M218.5 223.7 v7.2 M219.9 227.4 v7.3 M221.2 226.4 v7.4 M222.6 225.6 v7.5 M223.9 225.1 v7.6 M225.3 226.5 v7.7 M226.7 229.0 v7.8 M228.1 227.9 v7.9 M229.5 226.4 v8.0 M230.9 227.9 v8.1 M232.3 226.1 v8.2 M233.8 223.0 v8.3 M235.2 226.0 v8.3 M236.7 225.4 v8.4 M238.2 226.6 v8.5 M239.6 222.1 v8.6 M241.1 218.9 v8.7" stroke-width="1.0"/>
<path d="M158.0 225.1 L158.9 226.0 L159.8 226.2 L160.7 225.7 L161.6 226.4 L162.6 226.6 L163.5 226.7 L164.4 226.4 L165.4 226.6 L166.3 226.9 L167.3 226.7 L168.3 225.9 L169.2 225.7 L170.2 224.2 L171.2 224.8 L172.2 222.5 L173.2 223.2 L174.2 223.2 L175.2 223.1 L176.3 223.1 L177.3 221.8 L178.3 220.8 L179.4 221.9 L180.4 221.0 L181.5 221.9 L182.6 221.0 L183.6 221.5 L184.7 221.5 L185.8 221.7 L186.9 221.2 L188.0 223.0 L189.1 221.9 L190.3 222.8 L191.4 224.2 L192.5 224.8 L193.7 227.1 L194.9 226.5 L196.0 226.8 L197.2 228.9 L198.4 228.9 L199.6 228.3 L200.8 229.2 L202.0 229.5 L203.2 228.8 L204.4 226.9 L205.7 225.6 L206.9 222.7 L208.2 226.0 L209.4 223.2 L210.7 222.0 L212.0 222.6 L213.3 223.7 L214.6 224.2 L215.9 228.4 L217.2 226.1 L218.5 227.3 L219.9 231.1 L221.2 230.1 L222.6 229.4 L223.9 228.9 L225.3 230.3 L226.7 232.9 L228.1 231.9 L229.5 230.4 L230.9 231.9 L232.3 230.2 L233.8 227.1 L235.2 230.2 L236.7 229.6 L238.2 230.9 L239.6 226.4 L241.1 223.2" stroke-width="1.9"/>
<path d="M241.0 225.3 v6.1 M240.3 228.3 h1.4 M242.4 217.6 v7.3 M241.7 221.3 h1.4 M244.0 221.7 v7.3 M243.3 225.3 h1.4 M245.6 219.7 v7.3 M244.9 223.3 h1.4 M247.7 218.7 v7.3 M247.0 222.3 h1.4 M249.7 218.2 v6.1 M249.0 221.3 h1.4 M251.7 219.3 v6.1 M251.0 222.3 h1.4 M253.7 213.6 v7.3 M253.0 217.2 h1.4 M255.7 216.6 v7.3 M255.0 220.3 h1.4 M257.8 214.6 v7.3 M257.1 218.2 h1.4 M259.2 214.2 v6.1 M258.5 217.2 h1.4 M260.2 222.3 v6.1 M259.5 225.3 h1.4 M262.2 219.3 v6.1 M261.5 222.3 h1.4 M263.8 218.2 v6.1 M263.1 221.3 h1.4 M265.2 220.3 v6.1 M264.5 223.3 h1.4 M266.6 222.3 v6.1 M265.9 225.3 h1.4 M268.2 217.2 v6.1 M267.5 220.3 h1.4 M269.9 213.2 v6.1 M269.2 216.2 h1.4 M271.3 222.3 v6.1 M270.6 225.3 h1.4 M272.3 213.2 v6.1 M271.6 216.2 h1.4 M273.9 219.3 v6.1 M273.2 222.3 h1.4 M275.3 221.3 v6.1 M274.6 224.3 h1.4 M276.9 215.2 v6.1 M276.2 218.2 h1.4 M278.3 214.2 v6.1 M277.6 217.2 h1.4 M280.0 220.3 v6.1 M279.3 223.3 h1.4 M281.4 225.3 v4.0 M280.7 227.3 h1.4 M282.8 224.3 v4.0 M282.1 226.3 h1.4 M284.8 218.9 v4.8 M284.1 221.3 h1.4 M286.8 217.2 v6.1 M286.1 220.3 h1.4 M288.4 209.4 v4.8 M287.7 211.8 h1.4 M290.4 210.8 v4.8 M289.7 213.2 h1.4 M292.9 214.2 v6.1 M292.2 217.2 h1.4 M294.9 215.2 v6.1 M294.2 218.2 h1.4 M297.5 217.2 v6.1 M296.8 220.3 h1.4 M299.5 212.8 v6.1 M298.8 215.8 h1.4 M301.5 214.2 v6.1 M300.8 217.2 h1.4 M303.6 220.3 v6.1 M302.9 223.3 h1.4 M305.0 219.3 v6.1 M304.3 222.3 h1.4 M306.6 217.2 v6.1 M305.9 220.3 h1.4 M308.6 225.3 v6.1 M307.9 228.3 h1.4 M310.6 222.7 v7.3 M309.9 226.3 h1.4 M312.2 221.3 v6.1 M311.5 224.3 h1.4 M313.6 216.6 v7.3 M312.9 220.3 h1.4 M315.7 221.3 v8.1 M315.0 225.3 h1.4 M317.7 214.2 v8.1 M317.0 218.2 h1.4 M319.3 228.7 v7.3 M318.6 232.4 h1.4 M320.6 222.7 v7.3 M319.8 226.3 h1.6 M322.4 212.2 v8.1 M321.6 216.2 h1.6 M324.0 216.2 v8.1 M323.2 220.3 h1.6 M325.6 218.2 v8.1 M324.8 222.3 h1.6 M327.1 216.2 v8.1 M326.3 220.3 h1.6 M328.7 226.7 v7.3 M327.9 230.4 h1.6 M330.1 223.7 v7.3 M329.3 227.3 h1.6 M331.7 220.7 v7.3 M330.9 224.3 h1.6 M333.1 221.7 v7.3 M332.3 225.3 h1.6 M334.5 223.7 v7.3 M333.7 227.3 h1.6 M336.1 214.2 v8.1 M335.3 218.2 h1.6 M337.6 225.7 v7.3 M336.8 229.3 h1.6 M338.8 222.7 v7.3 M338.0 226.3 h1.6 M339.8 225.7 v7.3 M339.0 229.3 h1.6 M341.2 217.2 v8.1 M340.4 221.3 h1.6 M342.6 214.2 v8.1 M341.8 218.2 h1.6 M343.8 219.3 v8.1 M343.0 223.3 h1.6 M345.2 216.2 v8.1 M344.4 220.3 h1.6 M346.8 230.4 v8.1 M346.0 234.4 h1.6 M348.2 218.2 v8.1 M347.4 222.3 h1.6 M349.9 227.3 v8.1 M349.1 231.4 h1.6 M351.3 215.8 v8.9 M350.5 220.3 h1.6 M352.7 209.2 v10.1 M351.9 214.2 h1.6 M354.3 229.7 v7.3 M353.5 233.4 h1.6 M355.7 226.7 v7.3 M354.9 230.4 h1.6 M357.3 224.7 v7.3 M356.5 228.3 h1.6 M358.7 226.7 v7.3 M357.9 230.4 h1.6 M360.4 222.3 v8.1 M359.6 226.3 h1.6 M362.4 212.8 v8.9 M361.6 217.2 h1.6 M364.0 222.9 v8.9 M363.2 227.3 h1.6 M365.8 215.2 v10.1 M365.0 220.3 h1.6 M367.4 223.9 v8.9 M366.6 228.3 h1.6 M369.4 213.2 v10.1 M368.6 218.2 h1.6 M371.0 219.9 v8.9 M370.2 224.3 h1.6 M372.9 215.8 v8.9 M372.1 220.3 h1.6 M374.5 217.8 v8.9 M373.7 222.3 h1.6 M376.5 223.9 v8.9 M375.7 228.3 h1.6 M378.5 232.4 v8.1 M377.7 236.4 h1.6 M381.0 224.3 v6.1 M380.4 227.4 h1.2 M382.6 229.4 v6.1 M381.8 232.4 h1.6 M385.1 240.5 v6.1 M384.0 243.5 h2.0 M386.7 235.9 v7.3 M385.7 239.5 h2.0 M389.1 220.7 v11.3 M387.9 226.4 h2.4 M390.7 227.4 v8.1 M389.5 231.4 h2.4 M392.7 232.4 v8.1 M391.5 236.5 h2.4 M394.7 215.7 v11.3 M393.5 221.3 h2.4 M396.8 208.2 v12.1 M395.6 214.2 h2.4 M398.8 208.6 v12.1 M397.6 214.6 h2.4 M401.2 215.7 v12.1 M399.6 221.7 h3.2 M404.6 228.4 v10.1 M402.6 233.4 h4.0 M409.7 232.4 v10.1 M406.9 237.5 h5.7 M415.8 204.1 v14.1 M412.7 211.2 h6.1 M422.4 210.0 v15.4 M418.8 217.7 h7.3 M432.9 215.3 v15.4 M426.9 222.9 h12.1" stroke-width="0.85"/>
<path d="M240.3 228.3 h1.4 M241.7 221.3 h1.4 M243.3 225.3 h1.4 M244.9 223.3 h1.4 M247.0 222.3 h1.4 M249.0 221.3 h1.4 M251.0 222.3 h1.4 M253.0 217.2 h1.4 M255.0 220.3 h1.4 M257.1 218.2 h1.4 M258.5 217.2 h1.4 M259.5 225.3 h1.4 M261.5 222.3 h1.4 M263.1 221.3 h1.4 M264.5 223.3 h1.4 M265.9 225.3 h1.4 M267.5 220.3 h1.4 M269.2 216.2 h1.4 M270.6 225.3 h1.4 M271.6 216.2 h1.4 M273.2 222.3 h1.4 M274.6 224.3 h1.4 M276.2 218.2 h1.4 M277.6 217.2 h1.4 M279.3 223.3 h1.4 M280.7 227.3 h1.4 M282.1 226.3 h1.4 M284.1 221.3 h1.4 M286.1 220.3 h1.4 M287.7 211.8 h1.4 M289.7 213.2 h1.4 M292.2 217.2 h1.4 M294.2 218.2 h1.4 M296.8 220.3 h1.4 M298.8 215.8 h1.4 M300.8 217.2 h1.4 M302.9 223.3 h1.4 M304.3 222.3 h1.4 M305.9 220.3 h1.4 M307.9 228.3 h1.4 M309.9 226.3 h1.4 M311.5 224.3 h1.4 M312.9 220.3 h1.4 M315.0 225.3 h1.4 M317.0 218.2 h1.4 M318.6 232.4 h1.4 M319.9 226.3 h1.4 M321.7 216.2 h1.4 M323.3 220.3 h1.4 M324.9 222.3 h1.4 M326.4 220.3 h1.4 M328.0 230.4 h1.4 M329.4 227.3 h1.4 M331.0 224.3 h1.4 M332.4 225.3 h1.4 M333.8 227.3 h1.4 M335.4 218.2 h1.4 M336.9 229.3 h1.4 M338.1 226.3 h1.4 M339.1 229.3 h1.4 M340.5 221.3 h1.4 M341.9 218.2 h1.4 M343.1 223.3 h1.4 M344.5 220.3 h1.4 M346.1 234.4 h1.4 M347.5 222.3 h1.4 M349.2 231.4 h1.4 M350.6 220.3 h1.4 M352.0 214.2 h1.4 M353.6 233.4 h1.4 M355.0 230.4 h1.4 M356.6 228.3 h1.4 M358.0 230.4 h1.4 M359.7 226.3 h1.4 M361.7 217.2 h1.4 M363.3 227.3 h1.4 M365.1 220.3 h1.4 M366.7 228.3 h1.4 M368.7 218.2 h1.4 M370.3 224.3 h1.4 M372.2 220.3 h1.4 M373.8 222.3 h1.4 M375.8 228.3 h1.4 M377.8 236.4 h1.4 M380.3 227.4 h1.4 M381.9 232.4 h1.4 M384.4 243.5 h1.4 M386.0 239.5 h1.4 M388.4 226.4 h1.4 M390.0 231.4 h1.4 M392.0 236.5 h1.4 M394.0 221.3 h1.4 M396.1 214.2 h1.4 M398.1 214.6 h1.4 M400.5 221.7 h1.4 M403.9 233.4 h1.4 M409.0 237.5 h1.4 M415.1 211.2 h1.4 M421.7 217.7 h1.4 M432.2 222.9 h1.4" stroke-width="1.6"/>
</g>
</svg>
<div style="position:absolute;left:0;top:0;width:454px;height:297px;will-change:transform;opacity:0.92;">
<div class="t" style="right:385.7px;top:38.2px;">1</div>
<div class="t" style="right:385.7px;top:78.2px;">0.1</div>
<div class="t" style="right:385.7px;top:118.2px;">0.01</div>
<div class="t" style="right:385.7px;top:158.2px;">10<span class="sup">&minus;3</span></div>
<div class="t" style="right:385.7px;top:186.2px;">1.4</div>
<div class="t" style="right:385.7px;top:202.2px;">1.2</div>
<div class="t" style="right:385.7px;top:218.2px;">1</div>
<div class="t" style="right:385.7px;top:234.2px;">0.8</div>
<div class="t" style="right:385.7px;top:250.2px;">0.6</div>
<div class="t" style="left:129.5px;top:267.6px;width:40px;margin-left:-20px;text-align:center;">0.5</div>
<div class="t" style="left:201.0px;top:267.6px;width:40px;margin-left:-20px;text-align:center;">1</div>
<div class="t" style="left:272.5px;top:267.6px;width:40px;margin-left:-20px;text-align:center;">2</div>
<div class="t" style="left:367.0px;top:267.6px;width:40px;margin-left:-20px;text-align:center;">5</div>
<div class="t" style="left:438.5px;top:267.6px;width:40px;margin-left:-20px;text-align:center;">10</div>
<div class="t" style="left:218.0px;top:282.6px;font-size:12.8px;">Energy (keV)</div>
<div class="t" style="left:14.0px;top:182.6px;transform-origin:0 0;transform:rotate(-90deg) translateY(-100%);font-size:12.8px;">normalized counts s<span class="sup">&minus;1</span> keV<span class="sup">&minus;1</span></div>
<div class="t" style="left:13.4px;top:240.8px;transform-origin:0 0;transform:rotate(-90deg) translateY(-100%);font-size:12.5px;">ratio</div>
</div>
</body></html>
